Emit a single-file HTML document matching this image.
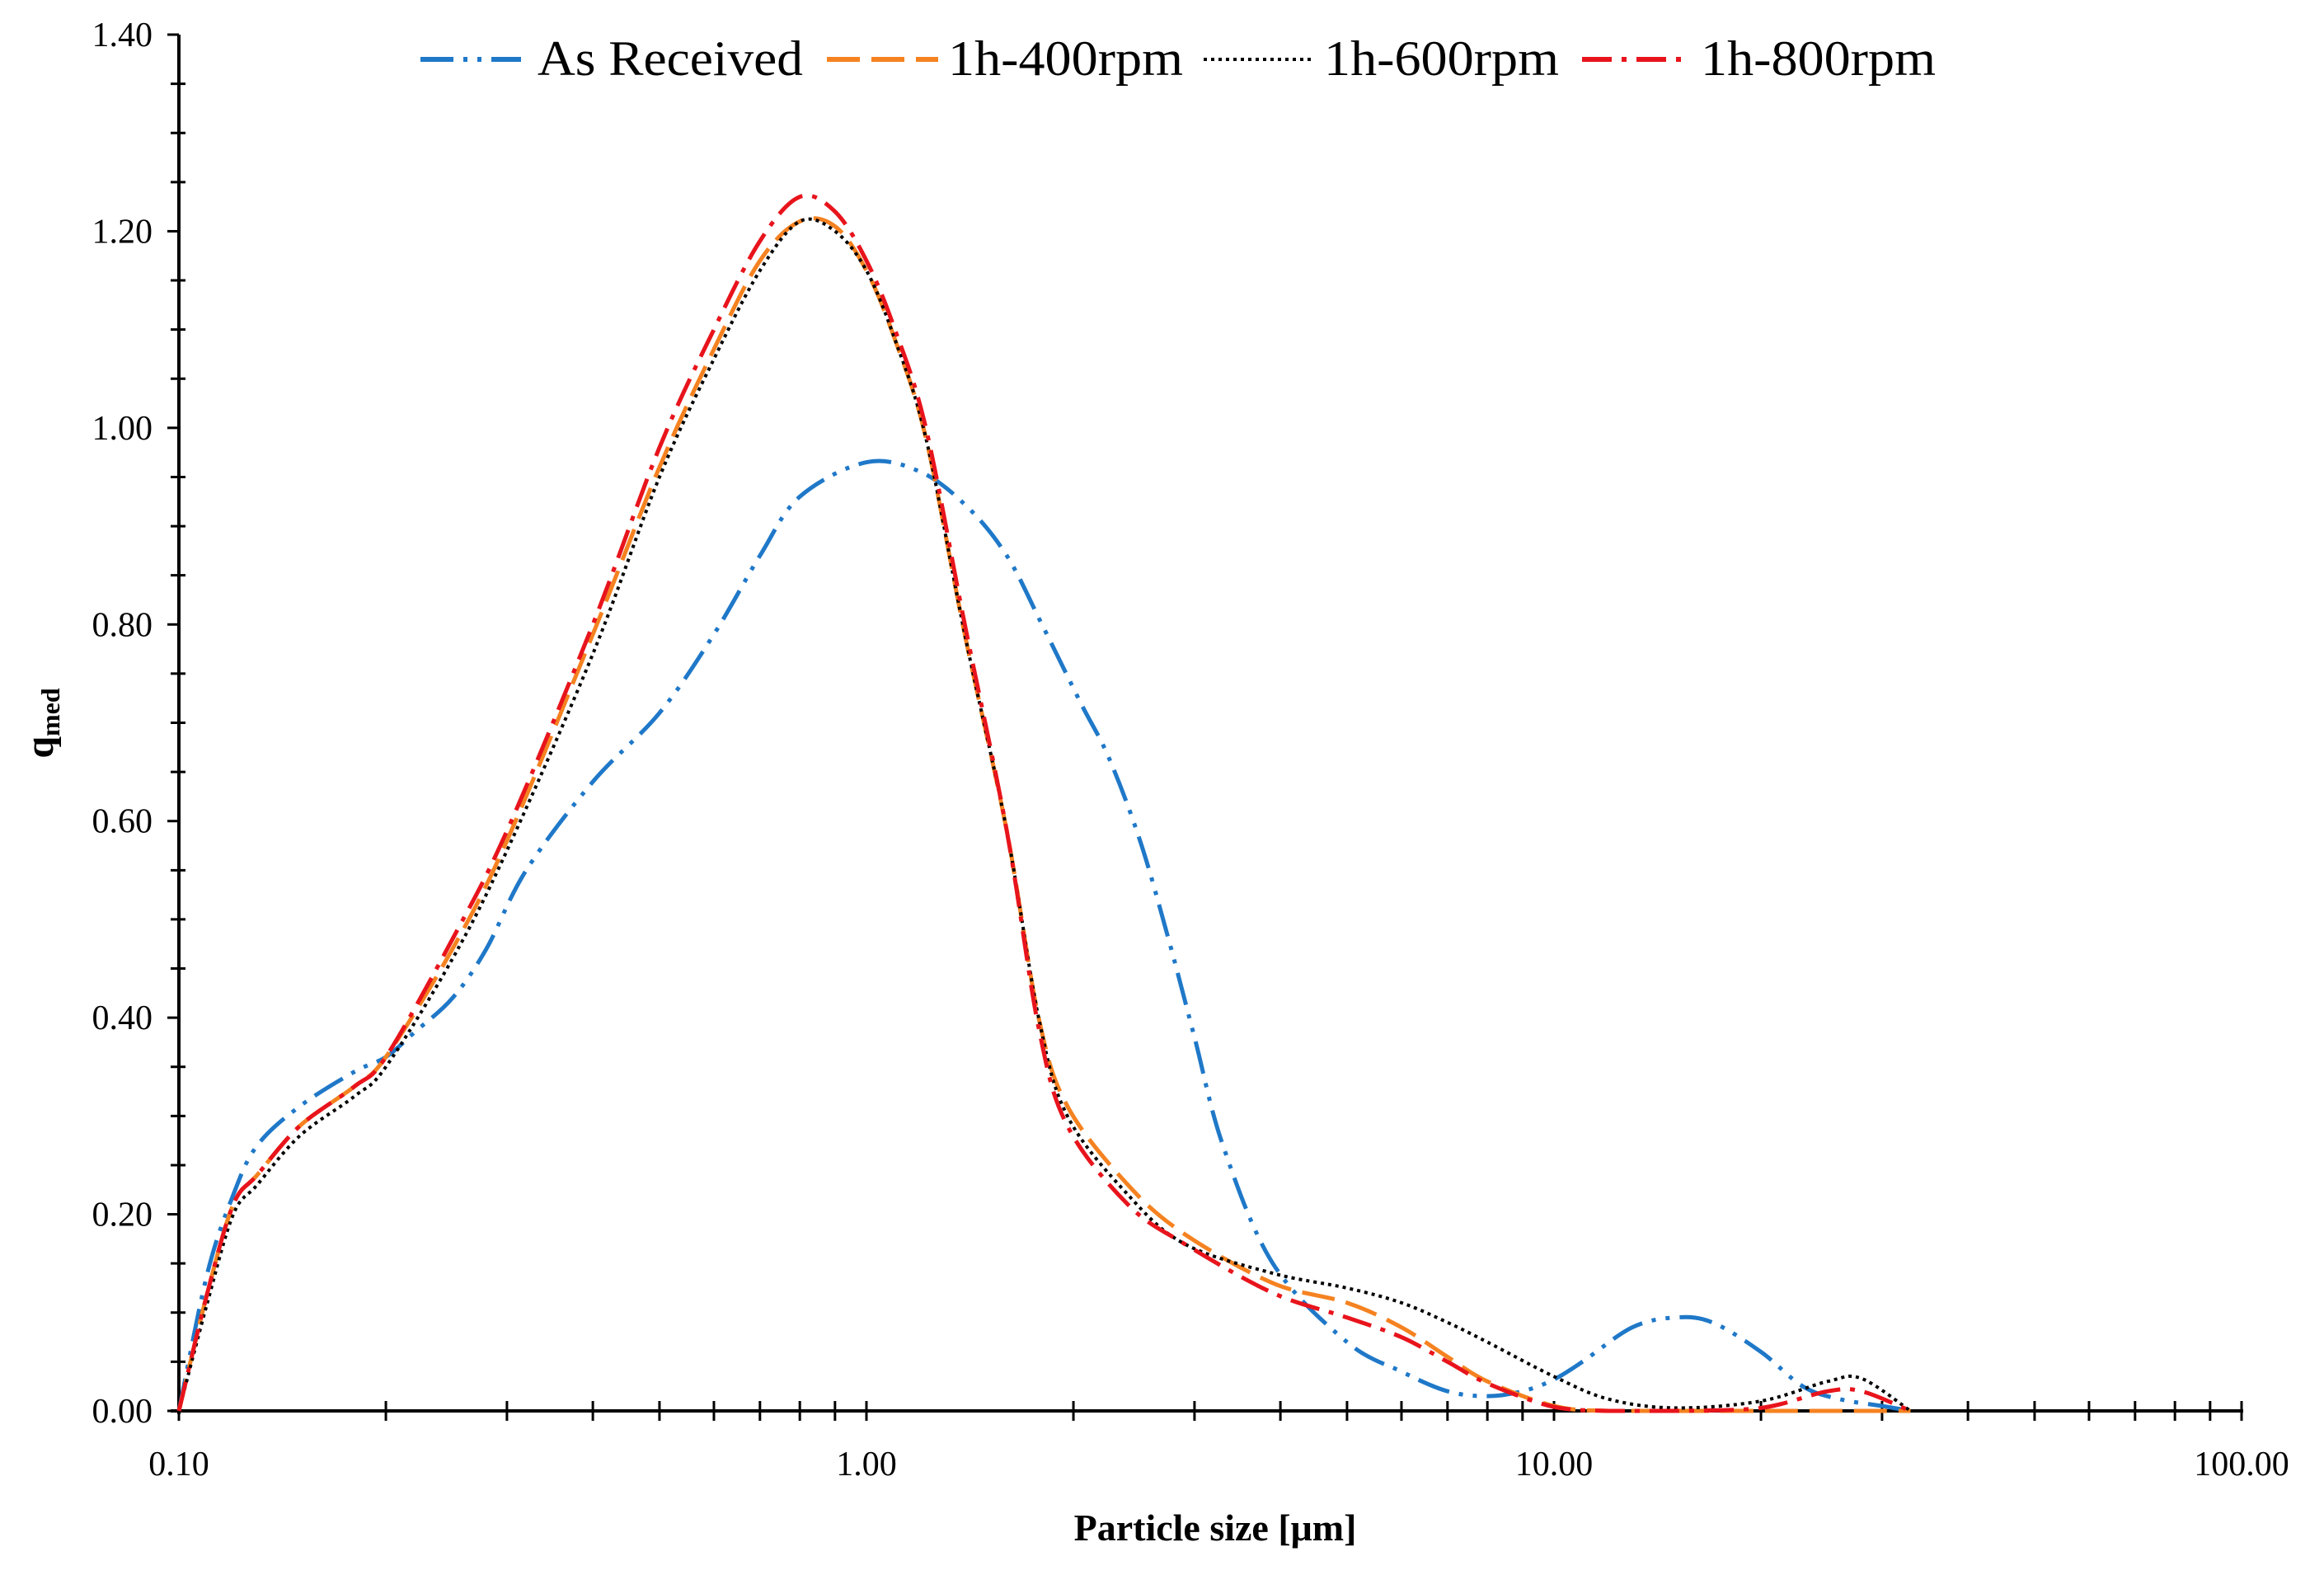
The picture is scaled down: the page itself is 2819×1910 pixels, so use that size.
<!DOCTYPE html>
<html><head><meta charset="utf-8"><style>
html,body{margin:0;padding:0;background:#fff;}
svg{display:block;font-family:"Liberation Serif",serif;}
</style></head><body>
<svg id="chart" width="2819" height="1910" viewBox="0 0 2819 1910" xmlns="http://www.w3.org/2000/svg">
<g id="axes"></g>
<g id="series"></g>
<g id="legend"></g>
<text x="1474" y="1868" font-size="46" font-weight="bold" text-anchor="middle">Particle size [μm]</text>
<text transform="translate(64,877) rotate(-90)" font-size="48" font-weight="bold" text-anchor="middle">q<tspan font-size="32" dy="8">med</tspan></text>
</svg>
<script>
const yTicks=[0,0.2,0.4,0.6,0.8,1.0,1.2,1.4];
const xTicks=[0.1,1,10,100];
const xTickLabels=["0.10","1.00","10.00","100.00"];
const seriesNames=["As Received","1h-400rpm","1h-600rpm","1h-800rpm"];
const xRecv=[0.1,0.11,0.12,0.13,0.15,0.18,0.2,0.22,0.25,0.28,0.32,0.4,0.5,0.6,0.7,0.8,1.0,1.2,1.4,1.6,1.8,2.05,2.25,2.5,2.75,3.0,3.3,3.9,5,6,7,8,9,10,11,13,15,17,20,23,26,30,33];
const yRecv=[0,0.14,0.22,0.27,0.31,0.345,0.36,0.385,0.42,0.47,0.55,0.64,0.71,0.79,0.87,0.93,0.965,0.955,0.92,0.87,0.80,0.72,0.665,0.58,0.48,0.38,0.27,0.15,0.07,0.04,0.02,0.015,0.02,0.032,0.05,0.085,0.095,0.09,0.06,0.025,0.012,0.005,0];
const xMill=[0.1,0.11,0.12,0.13,0.15,0.18,0.2,0.25,0.3,0.4,0.5,0.6,0.7,0.8,0.9,1.0,1.1,1.22,1.39,1.6,1.78,1.96,2.4,2.9,3.9,5,6,7,8,10,12,15,20,25,28,33];
const y400=[0,0.12,0.21,0.24,0.29,0.33,0.36,0.47,0.58,0.79,0.96,1.08,1.17,1.21,1.205,1.16,1.09,0.99,0.79,0.59,0.40,0.31,0.23,0.18,0.13,0.11,0.085,0.055,0.03,0.005,0,0,0,0,0,0];
const y600=[0,0.11,0.20,0.23,0.28,0.32,0.35,0.46,0.57,0.77,0.95,1.07,1.16,1.21,1.20,1.16,1.09,0.99,0.79,0.59,0.40,0.30,0.22,0.17,0.14,0.125,0.11,0.09,0.07,0.035,0.012,0.003,0.01,0.03,0.033,0];
const y800=[0,0.12,0.21,0.24,0.29,0.33,0.36,0.48,0.59,0.80,0.98,1.10,1.19,1.235,1.22,1.17,1.10,1.0,0.80,0.59,0.39,0.29,0.21,0.17,0.12,0.095,0.075,0.05,0.028,0.004,0,0,0.003,0.02,0.02,0];
const X0=217,DEC=834,Y0=1711,YTOP=42;
function xs(v){return X0+DEC*Math.log10(v/0.1);}
function ys(v){return Y0-(Y0-YTOP)*v/1.4;}
const NS="http://www.w3.org/2000/svg";
function mk(tag,attrs,parent){const e=document.createElementNS(NS,tag);for(const k in attrs)e.setAttribute(k,attrs[k]);parent.appendChild(e);return e;}
const axes=document.getElementById('axes');
let l=mk('line',{x1:X0,y1:YTOP,x2:X0,y2:Y0+4,stroke:'#000','stroke-width':4},axes);


l=mk('line',{x1:X0-10,y1:Y0,x2:xs(100)+2,y2:Y0,stroke:'#000','stroke-width':4},axes);


for(let v=0;v<=1.4001;v+=0.05){const y=ys(v);const major=Math.abs(v/0.2-Math.round(v/0.2))<1e-6;
 const t=mk('line',{x1:X0-(major?14:10),y1:y,x2:X0+(major?0:8),y2:y,stroke:'#000','stroke-width':3},axes);
 
 }
yTicks.forEach(v=>{const t=mk('text',{x:X0-32,y:ys(v)+14,'font-size':42,'text-anchor':'end'},axes);t.textContent=v.toFixed(2);
 
 });
for(let d=0;d<3;d++){for(let m=1;m<=10;m++){const v=0.1*Math.pow(10,d)*m;if(m===1&&d>0)continue;const x=xs(v);
 const t=mk('line',{x1:x,y1:Y0-12,x2:x,y2:Y0+12,stroke:'#000','stroke-width':3},axes);
 
 }}
xTicks.forEach((v,i)=>{const t=mk('text',{x:xs(v),y:Y0+78,'font-size':42,'text-anchor':'middle'},axes);t.textContent=xTickLabels[i];
 
 });
function pathFor(xa,ya){const p=xa.map((x,i)=>[xs(x),ys(ya[i])]);let d='M'+p[0][0]+','+p[0][1];
 for(let i=0;i<p.length-1;i++){const p0=p[Math.max(0,i-1)],p1=p[i],p2=p[i+1],p3=p[Math.min(p.length-1,i+2)];
  let c1y=p1[1]+(p2[1]-p0[1])/6,c2y=p2[1]-(p3[1]-p1[1])/6;c1y=Math.min(c1y,Y0);c2y=Math.min(c2y,Y0);
  d+=` C${p1[0]+(p2[0]-p0[0])/6},${c1y} ${p2[0]-(p3[0]-p1[0])/6},${c2y} ${p2[0]},${p2[1]}`;}
 return d;}
const styles=[{c:'#1f78c8',da:'40 12 5 12 5 12'},{c:'#f58220',da:'40 14'},{c:'#000',da:'4 5'},{c:'#e8141c',da:'36 12 6 12'}];
const data=[[xRecv,yRecv],[xMill,y400],[xMill,y600],[xMill,y800]];
const sg=document.getElementById('series');
const names=['series-as-received','series-1h-400rpm','series-1h-600rpm','series-1h-800rpm'];
data.forEach((s,i)=>{const p=mk('path',{d:pathFor(s[0],s[1]),fill:'none',stroke:styles[i].c,'stroke-width':i===2?4:5,'stroke-dasharray':styles[i].da},sg);
 
 });
const lg=document.getElementById('legend');
const lx=[[510,632],[1003,1138],[1460,1590],[1919,2050]],tx=[652,1150,1606,2063];
seriesNames.forEach((n,i)=>{const ly=72;
 const s=mk('line',{x1:lx[i][0],y1:ly,x2:lx[i][1],y2:ly,stroke:styles[i].c,'stroke-width':i===2?4:6,'stroke-dasharray':styles[i].da},lg);
 
 
 const t=mk('text',{x:tx[i],y:ly+19,'font-size':60,textLength:i===0?322:285,lengthAdjust:'spacingAndGlyphs'},lg);t.textContent=n;
 
 });
</script>
</body></html>
